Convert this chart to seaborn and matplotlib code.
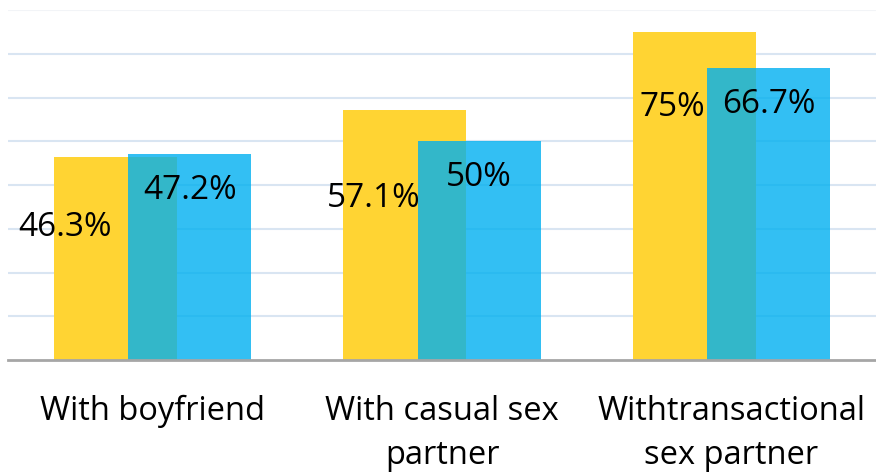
import matplotlib
matplotlib.use("Agg")
import pandas as pd
import seaborn as sns
from matplotlib import pyplot as plt

categories = ["With boyfriend", "With casual sex\npartner", "Withtransactional\nsex partner"]
yellow_values = [46.3, 57.1, 75.0]
blue_values = [47.2, 50.0, 66.7]
yellow_labels = ["46.3%", "57.1%", "75%"]
blue_labels = ["47.2%", "50%", "66.7%"]

YELLOW = "#FFD433"
BLUE = "#00B0F0"
BAR_W = 0.425
SHIFT = 0.128
# where Excel put the yellow labels (relative x in category units, y in data units)
yellow_lab_dx = [-0.303, -0.237, -0.205]
yellow_lab_y = [30.2, 37.0, 57.8]


def main():
    sns.set_style("white")
    plt.rcParams["font.family"] = ["Open Sans", "DejaVu Sans"]

    df = pd.DataFrame({"cat": categories, "yellow": yellow_values, "blue": blue_values})

    fig = plt.figure(figsize=(8.76, 4.72), dpi=100)
    ax = fig.add_axes([8 / 876, 112 / 472, 868 / 876, 350 / 472])

    sns.barplot(data=df, x="cat", y="yellow", color=YELLOW, saturation=1, width=BAR_W, ax=ax, zorder=2)
    n = len(ax.patches)
    sns.barplot(data=df, x="cat", y="blue", color=BLUE, saturation=1, width=BAR_W, ax=ax, alpha=0.8, zorder=3)
    for i, p in enumerate(ax.patches):
        p.set_x(p.get_x() + (-SHIFT if i < n else SHIFT))
        p.set_edgecolor("none")

    for i in range(len(categories)):
        ax.text(i + yellow_lab_dx[i], yellow_lab_y[i], yellow_labels[i], ha="center", va="center",
                fontsize=24, color="black", zorder=5)
        ax.text(i + SHIFT, blue_values[i] - 8.4, blue_labels[i], ha="center", va="center",
                fontsize=24, color="black", zorder=5)

    ax.set_xlim(-0.5, 2.5)
    ax.set_ylim(0, 80)
    ax.set_yticks(range(10, 80, 10))
    ax.yaxis.grid(True, color="#D9E5F2", lw=1.5, zorder=0)
    ax.set_axisbelow(True)
    ax.axhline(80, color="#F2F4F7", lw=1.5, zorder=0)
    ax.set_yticklabels([])
    ax.tick_params(axis="y", length=0)
    ax.tick_params(axis="x", length=0, pad=25, colors="black")
    for lab in ax.get_xticklabels():
        lab.set_fontsize(23.5)
        lab.set_linespacing(1.45)
    ax.set_xlabel("")
    ax.set_ylabel("")
    for s in ["top", "right", "left"]:
        ax.spines[s].set_visible(False)
    ax.spines["bottom"].set_color("#A6A6A6")
    ax.spines["bottom"].set_linewidth(2)
    ax.spines["bottom"].set_zorder(4)

    fig.savefig("out.png", dpi=100)
    plt.close(fig)


if __name__ == "__main__":
    main()
